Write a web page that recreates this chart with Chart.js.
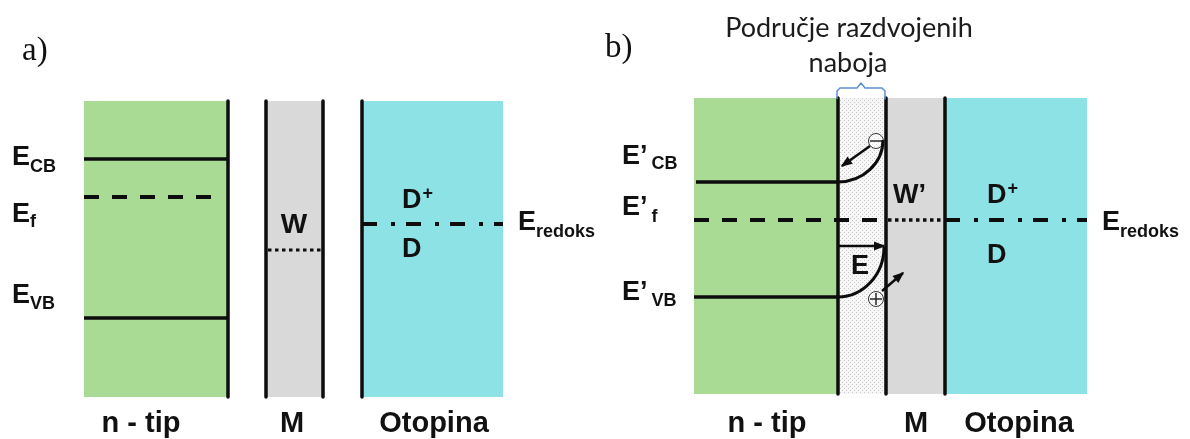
<!DOCTYPE html>
<html><head><meta charset="utf-8"><title>Energijski dijagram</title>
<script src="https://cdn.jsdelivr.net/npm/chart.js@4.4.1/dist/chart.umd.min.js"></script>
<style>html,body{margin:0;padding:0;background:#fff;overflow:hidden}#box{position:relative;width:1190px;height:439px}</style>
</head><body><div id="box"><canvas id="c" width="1190" height="439"></canvas></div>
<script>
// ---------- data (diagram units: x = position, y = energy depth measured from top) ----------
const panelLabels = ['a)', 'b)'];
const regionNames = ['n - tip', 'M', 'Otopina'];
const levelNames = ['CB', 'f', 'VB'];
const edgesA = [84, 228, 266, 323, 362, 503];      // n-tip | M | Otopina
const edgesB = [694, 838, 886, 945, 1087];         // n-tip | depletion | M | Otopina
const boxTop = [101, 98];
const boxBottom = [397, 394];
const levelsA = [159, 197, 318];                   // E_CB, E_f, E_VB
const levelsB = [182, 220, 297];                   // E'_CB, E'_f, E'_VB
const fermiEnd = [213, 884];
const workFunction = [250, 220];
const redoxLevel = [224, 220];
const bandBendTop = [140, 247];                    // CB / VB at the interface (b)
const bendEndX = [883, 884];
const chargeX = [876, 876];
const chargeY = [141, 299];
const arrowX0 = [870, 838, 882];
const arrowY0 = [146, 246, 291];
const arrowX1 = [842, 884, 903];
const arrowY1 = [166, 246, 273];
const regionLabelXA = [141, 292, 434];
const regionLabelXB = [767, 916, 1019];
const headerLines = ['Područje razdvojenih', 'naboja'];

// ---------- styles ----------
const GREEN = '#AADB94', GRAY = '#D9D9D9', CYAN = '#8DE2E6', INK = '#0d0d0d', BRACE = '#5E8FD1';
const BOLD = s => `bold ${s}px "Liberation Sans", Arial, sans-serif`;

function stipple() {
  const c = document.createElement('canvas'); c.width = 4; c.height = 4;
  const g = c.getContext('2d');
  g.fillStyle = '#f7f7f7'; g.fillRect(0, 0, 4, 4);
  g.fillStyle = '#c8c8c8'; g.fillRect(0, 0, 1, 1); g.fillRect(2, 2, 1, 1);
  return g.createPattern(c, 'repeat');
}

const P = (x, y) => ({x, y});
const datasets = [];
function box(x0, x1, top, bottom, color) {
  datasets.push({data: [P(x0, top), P(x1, top)], borderWidth: 0, borderColor: 'rgba(0,0,0,0)',
    backgroundColor: color, fill: {value: bottom}, order: 10});
}
function stroke(pts, w, dash, color, order) {
  datasets.push({data: pts, borderWidth: w, borderColor: color || INK, borderDash: dash || [],
    borderCapStyle: 'butt', borderJoinStyle: 'round', fill: false, order: order || 5});
}
const DASH = [15, 13], DOT = [3.5, 3.5], DASHDOT = [15, 14, 4, 11];

// panel a
box(edgesA[0], edgesA[1], boxTop[0], boxBottom[0], GREEN);
box(edgesA[2], edgesA[3], boxTop[0], boxBottom[0], GRAY);
box(edgesA[4], edgesA[5], boxTop[0], boxBottom[0], CYAN);
[edgesA[1], edgesA[2], edgesA[3], edgesA[4]].forEach(x => stroke([P(x, boxTop[0]), P(x, boxBottom[0])], 3.5));
stroke([P(edgesA[0], levelsA[0]), P(edgesA[1], levelsA[0])], 3.5);
stroke([P(edgesA[0], levelsA[1]), P(fermiEnd[0], levelsA[1])], 4, DASH);
stroke([P(edgesA[0], levelsA[2]), P(edgesA[1], levelsA[2])], 3.5);
stroke([P(edgesA[2] + 2, workFunction[0]), P(edgesA[3] - 2, workFunction[0])], 3, DOT);
stroke([P(edgesA[4], redoxLevel[0]), P(edgesA[5], redoxLevel[0])], 4, DASHDOT);

// panel b
box(edgesB[0], edgesB[1], boxTop[1], boxBottom[1], GREEN);
box(edgesB[1], edgesB[2], boxTop[1], boxBottom[1], stipple());
box(edgesB[2], edgesB[3], boxTop[1], boxBottom[1], GRAY);
box(edgesB[3], edgesB[4], boxTop[1], boxBottom[1], CYAN);
[edgesB[1], edgesB[2], edgesB[3]].forEach(x => stroke([P(x, boxTop[1]), P(x, boxBottom[1])], 3.5));
stroke([P(edgesB[0] + 2, levelsB[0]), P(edgesB[1], levelsB[0])], 3.5);
stroke([P(edgesB[0], levelsB[1]), P(fermiEnd[1], levelsB[1])], 4, DASH);
stroke([P(edgesB[0], levelsB[2]), P(edgesB[1], levelsB[2])], 3.5);
stroke([P(edgesB[2] + 2, workFunction[1]), P(edgesB[3] - 2, workFunction[1])], 3.5, DOT);
stroke([P(edgesB[3], redoxLevel[1]), P(edgesB[4], redoxLevel[1])], 4, DASHDOT);
// arrows (shafts)
arrowX0.forEach((x, i) => stroke([P(x, arrowY0[i]), P(arrowX1[i], arrowY1[i])], 2.5, [], INK, 4));
// brace over the space-charge region
(function () {
  const x0 = edgesB[1] - 1, x1 = edgesB[2] - 1, xm = (x0 + x1) / 2, yb = boxTop[1] + 1, yt = yb - 11;
  stroke([P(x0, yb), P(x0, yt + 3), P(x0 + 3, yt), P(xm - 4, yt), P(xm, yt - 5), P(xm + 4, yt),
    P(x1 - 3, yt), P(x1, yt + 3), P(x1, yb)], 1.5, [], BRACE, 3);
})();
// charges
datasets.push({data: chargeX.map((x, i) => P(x, chargeY[i])), showLine: false, pointStyle: 'circle',
  pointRadius: 7.5, pointBackgroundColor: 'rgba(255,255,255,0.35)', pointBorderColor: '#3a3a3a',
  pointBorderWidth: 1, order: 1});
datasets.push({data: [P(chargeX[0], chargeY[0])], showLine: false, pointStyle: 'line', pointRadius: 6,
  pointBorderColor: '#2a2a2a', pointBorderWidth: 1.5, order: 0});
datasets.push({data: [P(chargeX[1], chargeY[1])], showLine: false, pointStyle: 'cross', pointRadius: 6,
  pointBorderColor: '#2a2a2a', pointBorderWidth: 1.5, order: 0});

// ---------- plugin: band bending, arrowheads and text ----------
function head(ctx, sx, sy, tx, ty, len, half) {
  const a = Math.atan2(ty - sy, tx - sx), c = Math.cos(a), s = Math.sin(a);
  ctx.beginPath();
  ctx.moveTo(tx + 1.5 * c, ty + 1.5 * s);
  ctx.lineTo(tx - len * c + half * s, ty - len * s - half * c);
  ctx.lineTo(tx - len * c - half * s, ty - len * s + half * c);
  ctx.closePath(); ctx.fill();
}
function txt(ctx, s, x, y, font, align) {
  ctx.font = font; ctx.textAlign = align || 'left'; ctx.textBaseline = 'alphabetic';
  ctx.fillText(s, x, y); return ctx.measureText(s).width;
}
function sym(ctx, main, sub, sup, x, y, subDy, gap) {
  const w = txt(ctx, main, x, y, BOLD(27));
  if (sub) txt(ctx, sub, x + w + (gap || 0), y + subDy, BOLD(18));
  if (sup) txt(ctx, sup, x + w + 1, y - 9, BOLD(18));
}

const diagramPlugin = {
  id: 'diagram',
  afterDatasetsDraw(chart) {
    const {ctx, scales: {x: X, y: Y}} = chart;
    const px = v => X.getPixelForValue(v), py = v => Y.getPixelForValue(v);
    ctx.save();
    ctx.strokeStyle = INK; ctx.fillStyle = INK; ctx.lineWidth = 3; ctx.lineCap = 'butt';
    // band bending curves (quarter ellipses from the level to the interface value)
    [levelsB[0], levelsB[2]].forEach((lv, i) => {
      const cx = px(edgesB[1]), cy = py(bandBendTop[i]);
      const rx = px(bendEndX[i]) - cx, ry = py(lv) - cy;
      ctx.beginPath(); ctx.ellipse(cx, cy, rx, ry, 0, 0, Math.PI / 2); ctx.stroke();
    });
    // arrowheads
    arrowX0.forEach((x, i) => head(ctx, px(x), py(arrowY0[i]), px(arrowX1[i]), py(arrowY1[i]), 10, 4.5));

    ctx.fillStyle = '#111';
    // panel letters
    txt(ctx, panelLabels[0], 22, 60, '33px "Liberation Serif", "Times New Roman", serif');
    txt(ctx, panelLabels[1], 605, 57, '33px "Liberation Serif", "Times New Roman", serif');
    // header
    ctx.fillStyle = '#1c1c1c';
    txt(ctx, headerLines[0], 849, 37, '27px Lato, "Open Sans", sans-serif', 'center');
    txt(ctx, headerLines[1], 848, 72, '27px Lato, "Open Sans", sans-serif', 'center');
    ctx.fillStyle = '#111';
    // panel a labels
    sym(ctx, 'E', levelNames[0], null, 12, 165, 7);
    sym(ctx, 'E', levelNames[1], null, 12, 222, 5);
    sym(ctx, 'E', levelNames[2], null, 12, 303, 6);
    txt(ctx, 'W', 294, 233, BOLD(28), 'center');
    sym(ctx, 'D', null, '+', 402, 208);
    txt(ctx, 'D', 402, 257, BOLD(27));
    sym(ctx, 'E', 'redoks', null, 518, 230, 7);
    // panel b labels
    sym(ctx, 'E\u2019', levelNames[0], null, 622, 164, 5, 4);
    sym(ctx, 'E\u2019', levelNames[1], null, 622, 215, 7, 4);
    sym(ctx, 'E\u2019', levelNames[2], null, 622, 300, 6, 4);
    txt(ctx, 'W\u2019', 893, 203, BOLD(27));
    sym(ctx, 'D', null, '+', 987, 203);
    txt(ctx, 'D', 987, 263, BOLD(27));
    txt(ctx, 'E', 851, 274, BOLD(27));
    sym(ctx, 'E', 'redoks', null, 1102, 230, 7);
    // region names
    regionNames.forEach((n, i) => {
      txt(ctx, n, regionLabelXA[i], 432, BOLD(29), 'center');
      txt(ctx, n, regionLabelXB[i], 432, BOLD(29), 'center');
    });
    ctx.restore();
  }
};

new Chart(document.getElementById('c'), {
  type: 'line',
  data: {datasets},
  options: {
    responsive: false, animation: false, devicePixelRatio: 1, events: [],
    layout: {padding: 0, autoPadding: false},
    elements: {point: {radius: 0, hoverRadius: 0}, line: {tension: 0}},
    scales: {
      x: {type: 'linear', min: 0, max: 1190, display: false},
      y: {type: 'linear', min: 0, max: 439, reverse: true, display: false}
    },
    plugins: {legend: {display: false}, tooltip: {enabled: false}}
  },
  plugins: [diagramPlugin]
});
</script></body></html>
